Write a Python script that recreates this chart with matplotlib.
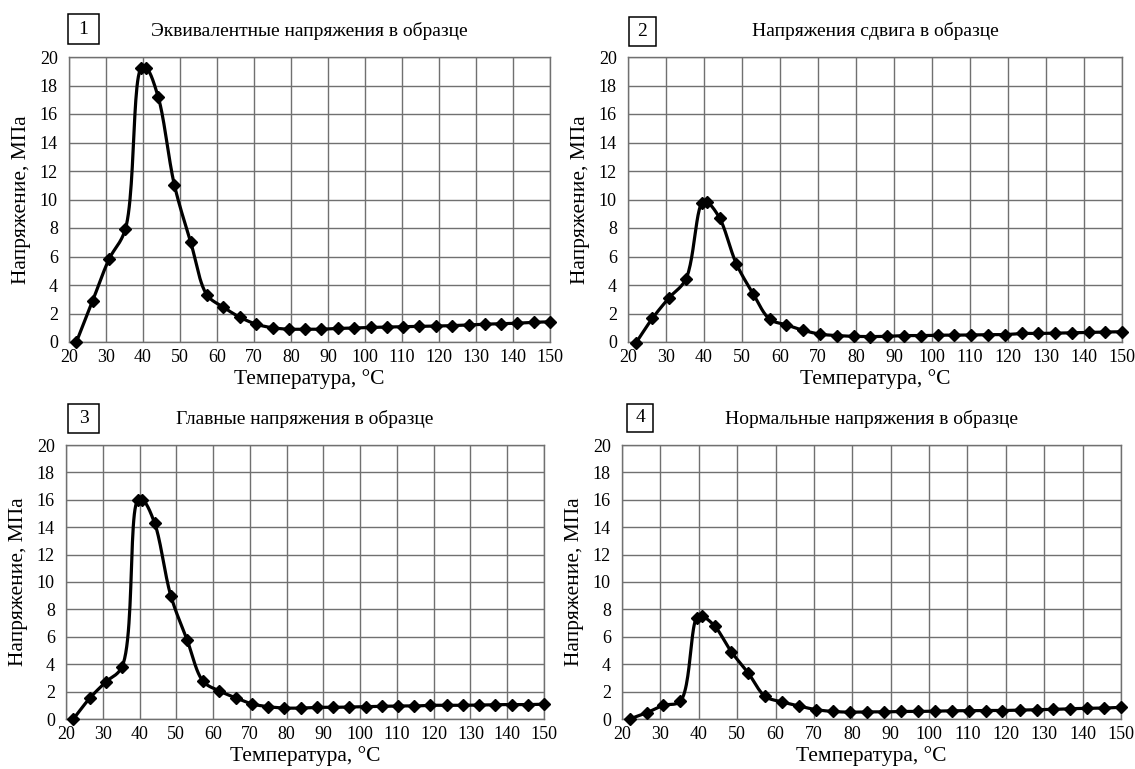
import numpy as np
import matplotlib
matplotlib.use("Agg")
import matplotlib.pyplot as plt
from matplotlib.patches import Rectangle

plt.rcParams['font.family'] = ['Liberation Serif', 'DejaVu Serif']

# temperatures of the computed points (same for all panels)
temp = [22, 26.4, 30.8, 35.2, 39.5, 40.8, 44.1, 48.5, 52.9, 57.3, 61.7, 66.1,
        70.6, 75.0, 79.4, 83.8, 88.2, 92.7, 97.1, 101.5, 105.9, 110.3, 114.7,
        119.1, 123.6, 128.0, 132.4, 136.8, 141.2, 145.6, 150.0]

# 1 - equivalent stress
s_eqv = [0, 2.9, 5.8, 7.9, 19.2, 19.25, 17.2, 11.0, 7.0, 3.3, 2.45, 1.75,
         1.25, 1.0, 0.9, 0.9, 0.9, 0.95, 0.98, 1.02, 1.05, 1.07, 1.1,
         1.12, 1.15, 1.2, 1.25, 1.28, 1.32, 1.38, 1.42]
# 2 - shear stress
s_shear = [-0.1, 1.65, 3.1, 4.4, 9.75, 9.8, 8.7, 5.5, 3.4, 1.6, 1.2, 0.82,
           0.55, 0.45, 0.4, 0.38, 0.4, 0.45, 0.45, 0.48, 0.48, 0.5, 0.52,
           0.52, 0.6, 0.6, 0.62, 0.65, 0.68, 0.7, 0.72]
# 3 - principal stress
s_princ = [0, 1.5, 2.7, 3.8, 15.95, 16.0, 14.3, 9.0, 5.8, 2.75, 2.05, 1.55,
           1.1, 0.9, 0.8, 0.8, 0.85, 0.85, 0.88, 0.9, 0.92, 0.95, 0.95,
           1.0, 1.0, 1.0, 1.02, 1.05, 1.05, 1.05, 1.08]
# 4 - normal stress
s_norm = [0, 0.45, 1.0, 1.3, 7.4, 7.5, 6.8, 4.9, 3.35, 1.65, 1.25, 0.95,
          0.68, 0.55, 0.5, 0.52, 0.52, 0.55, 0.55, 0.58, 0.6, 0.6, 0.62,
          0.62, 0.65, 0.68, 0.7, 0.75, 0.78, 0.8, 0.85]

titles = ["Эквивалентные напряжения в образце",
          "Напряжения сдвига в образце",
          "Главные напряжения в образце",
          "Нормальные напряжения в образце"]
numbers = ["1", "2", "3", "4"]
series = [s_eqv, s_shear, s_princ, s_norm]

xticks = list(range(20, 151, 10))
yticks = list(range(0, 21, 2))

W, H = 1135, 769
# axes boxes in pixels: left, top, right, bottom
boxes = [(69, 57, 550, 342), (628, 57, 1122, 342),
         (66, 445, 544, 719), (622, 445, 1121, 719)]
# number boxes in pixels: left, top, right, bottom
num_boxes = [(68, 14, 99, 44), (629, 17, 656, 46),
             (68, 404, 99, 433), (627, 404, 653, 432)]


def smooth(x, y, sx, sy, n=24):
    # smoothed line through the points (centripetal catmull-rom in pixel space)
    P = np.column_stack([np.asarray(x, float) * sx, np.asarray(y, float) * sy])
    P = np.vstack([2 * P[0] - P[1], P, 2 * P[-1] - P[-2]])
    out = []
    for i in range(1, len(P) - 2):
        p0, p1, p2, p3 = P[i - 1], P[i], P[i + 1], P[i + 2]
        t0 = 0.0
        t1 = t0 + np.linalg.norm(p1 - p0) ** 0.5
        t2 = t1 + np.linalg.norm(p2 - p1) ** 0.5
        t3 = t2 + np.linalg.norm(p3 - p2) ** 0.5
        t = np.linspace(t1, t2, n, endpoint=False)[:, None]
        a1 = (t1 - t) / (t1 - t0) * p0 + (t - t0) / (t1 - t0) * p1
        a2 = (t2 - t) / (t2 - t1) * p1 + (t - t1) / (t2 - t1) * p2
        a3 = (t3 - t) / (t3 - t2) * p2 + (t - t2) / (t3 - t2) * p3
        b1 = (t2 - t) / (t2 - t0) * a1 + (t - t0) / (t2 - t0) * a2
        b2 = (t3 - t) / (t3 - t1) * a2 + (t - t1) / (t3 - t1) * a3
        out.append((t2 - t) / (t2 - t1) * b1 + (t - t1) / (t2 - t1) * b2)
    out.append(P[-2][None, :])
    out = np.vstack(out)
    return out[:, 0] / sx, out[:, 1] / sy


fig = plt.figure(figsize=(W / 100, H / 100), dpi=100)
for k in range(4):
    l, t, r, b = boxes[k]
    ax = fig.add_axes([l / W, 1 - b / H, (r - l) / W, (b - t) / H])
    xs, ys = smooth(temp, series[k], (r - l) / 130, (b - t) / 20)
    ax.plot(xs, ys, color='black', lw=2.3, zorder=3, clip_on=False)
    ax.plot(temp, series[k], ls='none', marker='D', ms=6, color='black',
            zorder=4, clip_on=False)
    ax.set_xlim(20, 150)
    ax.set_ylim(0, 20)
    ax.set_xticks(xticks)
    ax.set_yticks(yticks)
    ax.grid(True, color='#707070', lw=1.0)
    ax.set_axisbelow(True)
    for sp in ax.spines.values():
        sp.set_color('#707070')
        sp.set_linewidth(1.0)
    ax.tick_params(axis='y', length=0, labelsize=13, pad=8)
    ax.tick_params(axis='x', length=0, labelsize=13, pad=5)
    ax.set_xlabel("Температура, °C", fontsize=15.5, labelpad=2)
    ax.set_ylabel("Напряжение, МПа", fontsize=15.5, labelpad=6)
    ax.set_title(titles[k], fontsize=14, pad=15)
    bl, bt, br, bb = num_boxes[k]
    fig.add_artist(Rectangle((bl / W, 1 - bb / H), (br - bl) / W, (bb - bt) / H,
                             transform=fig.transFigure, fill=False,
                             ec='black', lw=1.1))
    fig.text((bl + br) / 2 / W, 1 - (bt + bb) / 2 / H, numbers[k],
             fontsize=14, ha='center', va='center')

fig.savefig("out.png", dpi=100)
